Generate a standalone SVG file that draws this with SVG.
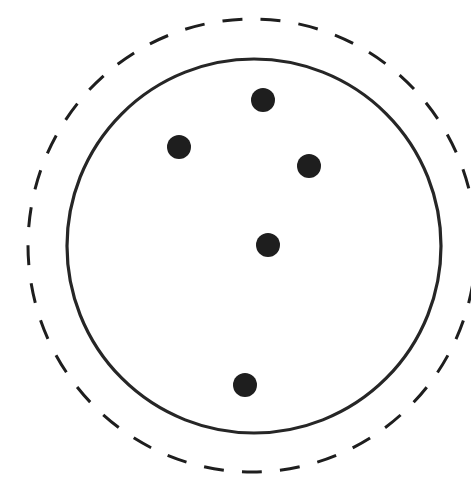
<svg xmlns="http://www.w3.org/2000/svg" width="471" height="480" viewBox="0 0 471 480">
<style>
.outer{fill:none;stroke:#1e1e1e;stroke-width:3;stroke-dasharray:20 18.2}
.inner{fill:none;stroke:#262626;stroke-width:3.2}
.dot{fill:#1e1e1e}
</style>
<rect width="471" height="480" fill="#fff"/>
<g id="outer-boundary"><ellipse class="outer" cx="252" cy="245.5" rx="224" ry="226.5"/></g>
<g id="inner-boundary"><circle class="inner" cx="254" cy="246" r="187"/></g>
<g id="dot1"><circle class="dot" cx="263" cy="100" r="12"/></g>
<g id="dot2"><circle class="dot" cx="179" cy="147" r="12"/></g>
<g id="dot3"><circle class="dot" cx="309" cy="166" r="12"/></g>
<g id="dot4"><circle class="dot" cx="268" cy="245" r="12"/></g>
<g id="dot5"><circle class="dot" cx="245" cy="385" r="12"/></g>
</svg>
